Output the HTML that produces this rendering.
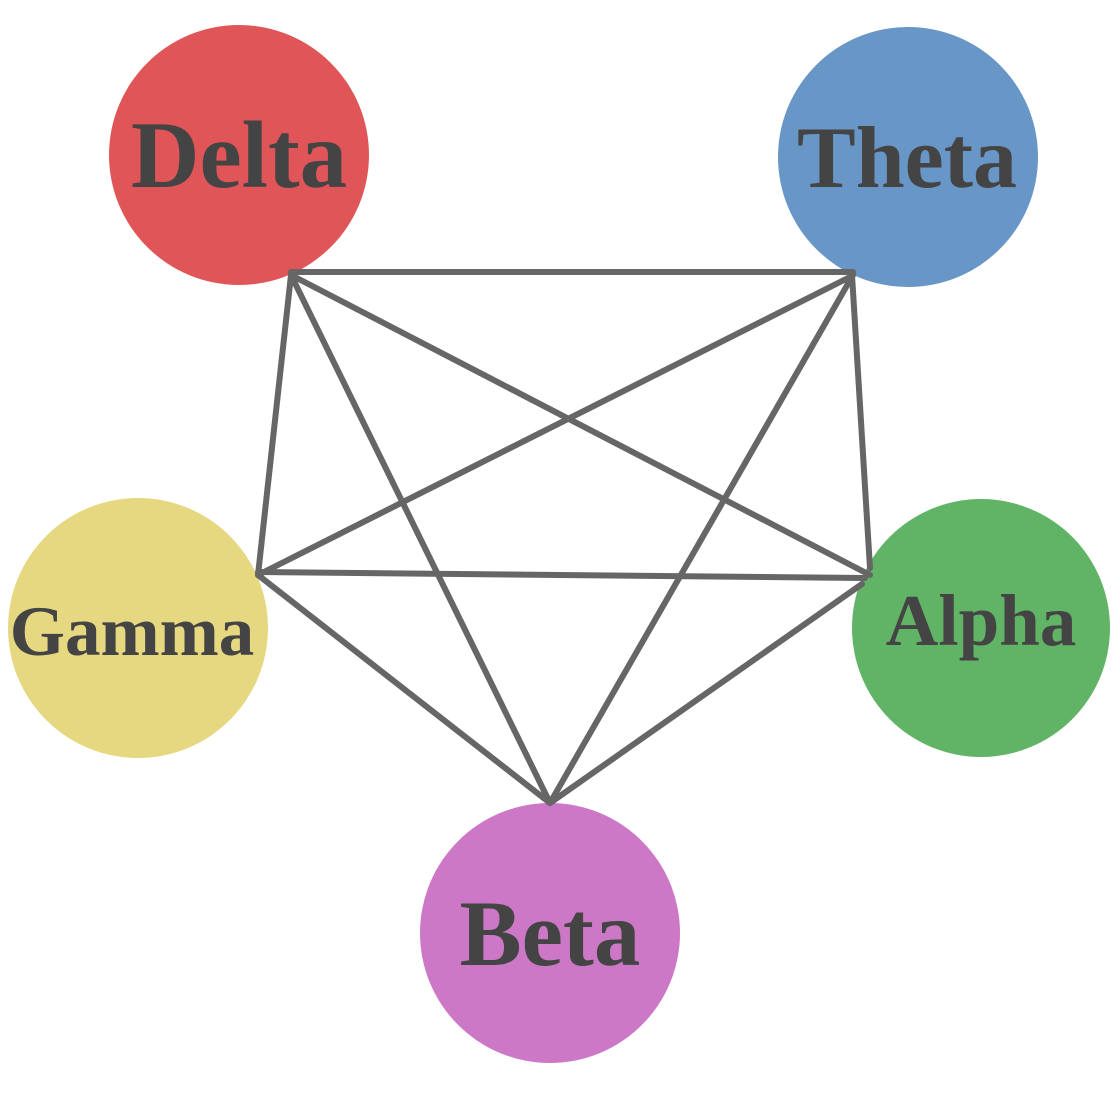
<!DOCTYPE html>
<html><head><meta charset="utf-8"><style>html,body{margin:0;padding:0;background:#fff}svg{display:block}</style></head>
<body>
<svg width="1120" height="1095" viewBox="0 0 1120 1095" xmlns="http://www.w3.org/2000/svg">
<circle cx="239" cy="155" r="130" fill="#e05558"/>
<circle cx="908" cy="157" r="130" fill="#6896c6"/>
<circle cx="138" cy="628" r="130" fill="#e6d880"/>
<circle cx="981" cy="628" r="129" fill="#61b366"/>
<circle cx="550" cy="933" r="130" fill="#cc78c6"/>
<g stroke="#666666" stroke-width="6" stroke-linecap="round" fill="none">
<line x1="291" y1="272" x2="853" y2="272"/>
<line x1="291" y1="275" x2="258" y2="575"/>
<line x1="291" y1="275" x2="870" y2="575"/>
<line x1="291" y1="275" x2="550" y2="803"/>
<line x1="848" y1="278" x2="258" y2="575"/>
<line x1="853" y1="275" x2="550" y2="803"/>
<line x1="852" y1="275" x2="870" y2="568"/>
<line x1="258" y1="572" x2="865" y2="578"/>
<line x1="258" y1="575" x2="550" y2="803"/>
<line x1="862" y1="584" x2="550" y2="803"/>
</g>
<g font-family="'Liberation Serif', serif" font-weight="bold" fill="#444444" text-anchor="middle">
<text x="239" y="187" font-size="95">Delta</text>
<text x="907" y="187" font-size="88">Theta</text>
<text x="132" y="655" font-size="71">Gamma</text>
<text x="981" y="645" font-size="73">Alpha</text>
<text x="550" y="965" font-size="93">Beta</text>
</g>
</svg>
</body></html>
